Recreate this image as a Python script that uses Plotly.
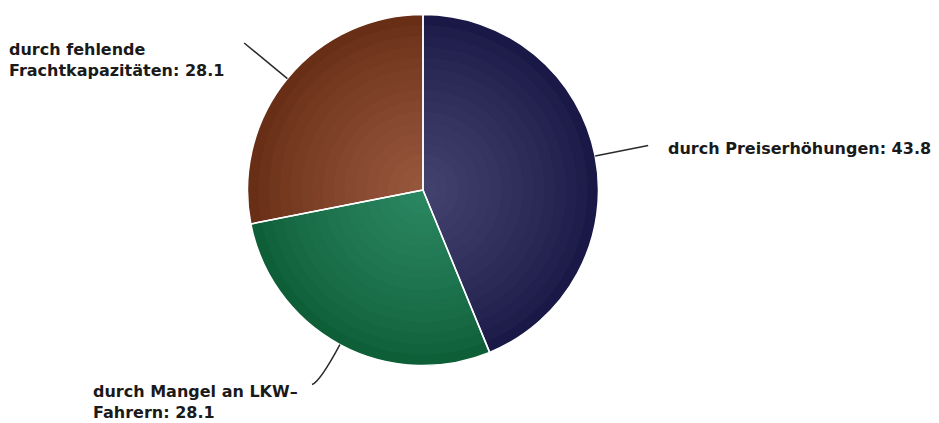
import math
import plotly.graph_objects as go

labels = ["durch Preiserhöhungen", "durch Mangel an LKW-Fahrern", "durch fehlende Frachtkapazitäten"]
label_text = ["durch Preiserhöhungen: 43.8", "durch Mangel an LKW–<br>Fahrern: 28.1", "durch fehlende<br>Frachtkapazitäten: 28.1"]
values = [43.8, 28.1, 28.1]
edge_colors = [(26, 24, 70), (14, 94, 56), (104, 46, 22)]
center_colors = [(66, 64, 108), (42, 134, 96), (150, 86, 60)]

W, H = 939, 423
OFF = 8  # page body margin
CX, CY, R = 423, 190, 175.5
N_LAYERS = 16


def px(x):
    return (x - OFF) / W


def py(y):
    return 1 - (y - OFF) / H


def mix(a, b, t):
    return "rgb(%d,%d,%d)" % tuple(round(a[i] + (b[i] - a[i]) * t) for i in range(3))


fig = go.Figure()
for k in range(N_LAYERS):
    t = k / (N_LAYERS - 1)
    r = R * (1 - 0.92 * t)
    cols = [mix(e, c, t ** 0.8) for e, c in zip(edge_colors, center_colors)]
    fig.add_trace(go.Pie(
        labels=labels, values=values, sort=False, direction="clockwise", rotation=0,
        marker=dict(colors=cols, line=dict(width=0)),
        textinfo="none", hoverinfo="label+value" if k == 0 else "skip", showlegend=False,
        domain=dict(x=[px(CX - r), px(CX + r)], y=[py(CY + r), py(CY - r)]),
    ))
# white slice separators on top
fig.add_trace(go.Pie(
    labels=labels, values=values, sort=False, direction="clockwise", rotation=0,
    marker=dict(colors=["rgba(0,0,0,0)"] * 3, line=dict(color="white", width=1.5)),
    textinfo="none", hoverinfo="skip", showlegend=False,
    domain=dict(x=[px(CX - R), px(CX + R)], y=[py(CY + R), py(CY - R)]),
))

total = sum(values)
cum = 0
label_cfg = [
    dict(ext=54, dx=18, dy=2.5, xanchor="left"),
    dict(ext=42, dx=-12, dy=17, xanchor="right"),
    dict(ext=56, dx=-18, dy=17.5, xanchor="right"),
]
shapes, annotations = [], []
for v, txt, cfg in zip(values, label_text, label_cfg):
    mid = (cum + v / 2) / total * 2 * math.pi
    cum += v
    sx, sy = math.sin(mid), -math.cos(mid)
    x0, y0 = CX + R * sx, CY + R * sy
    x1, y1 = CX + (R + cfg["ext"]) * sx, CY + (R + cfg["ext"]) * sy
    if sy > 0.5:
        x2, y2 = x1 + (8 if sx > 0 else -8), y1 + 3
    else:
        x2, y2 = x1, y1
    path = f"M {px(x0)},{py(y0)} Q {px(x1)},{py(y1)} {px(x2)},{py(y2)}"
    shapes.append(dict(type="path", xref="paper", yref="paper", path=path,
                       line=dict(color="#2a2a2a", width=1.5)))
    annotations.append(dict(x=px(x2 + cfg["dx"]), y=py(y2 + cfg["dy"]), xref="paper", yref="paper",
                            text="<b>" + txt.replace("<br>", "</b><br><b>") + "</b>",
                            showarrow=False, xanchor=cfg["xanchor"], yanchor="middle",
                            align="left", font=dict(family="DejaVu Sans", size=16, color="#1a1a1a")))

fig.update_layout(width=W, height=H, margin=dict(l=0, r=0, t=0, b=0),
                  paper_bgcolor="white", plot_bgcolor="white",
                  shapes=shapes, annotations=annotations)
fig.write_html("out.html")
